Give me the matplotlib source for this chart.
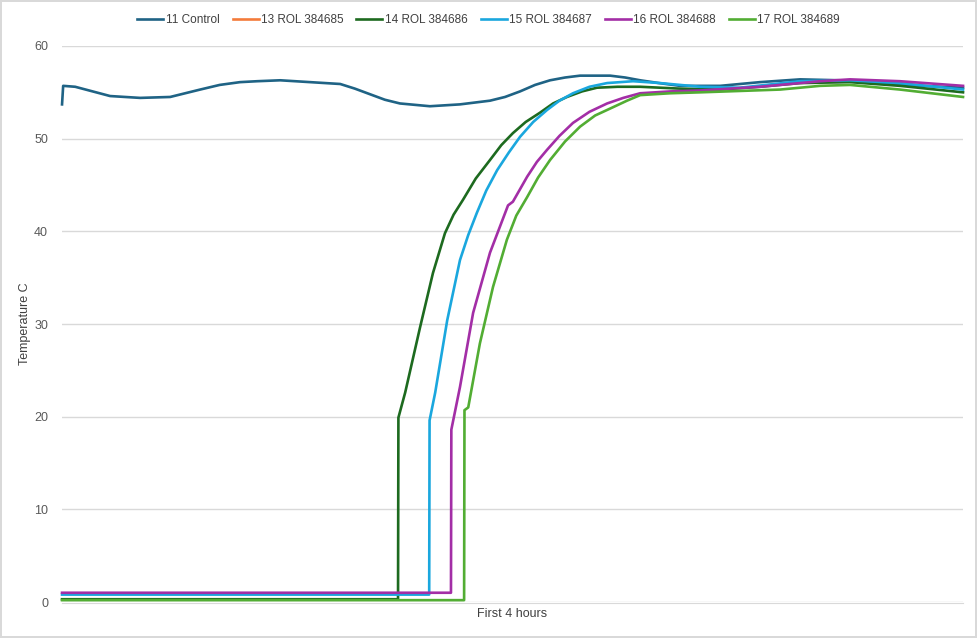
import matplotlib
matplotlib.use("Agg")
import matplotlib.pyplot as plt

plt.rcParams['font.family'] = ['Liberation Sans', 'DejaVu Sans']

# time in minutes (first 4 hours), temperature in C
control_t = [0, 0.3, 3.5, 12.8, 20.8, 28.8, 36.8, 42.0, 47.4, 52.0, 58.1, 66.1, 74.1, 78.0, 82.0,
             86.0, 90.0, 98.0, 106.0, 114.0, 118.0, 122.0, 126.0, 130.0, 134.0, 138.0, 146.0,
             150.0, 154.0, 159.0, 164.6, 175.3, 185.9, 196.6, 207.2, 217.9, 228.6, 240]
control_v = [53.7, 55.7, 55.6, 54.6, 54.4, 54.5, 55.3, 55.8, 56.1, 56.2, 56.3, 56.1, 55.9, 55.4, 54.8,
             54.2, 53.8, 53.5, 53.7, 54.1, 54.5, 55.1, 55.8, 56.3, 56.6, 56.8, 56.8,
             56.6, 56.3, 56.0, 55.7, 55.7, 56.1, 56.4, 56.3, 56.0, 55.7, 55.5]

rol685_t = []
rol685_v = []

rol686_t = [0, 89.5, 89.6, 91.4, 95.4, 98.8, 102.0, 104.3, 106.8, 110.2, 114.0, 117.0, 120.1,
            123.5, 127.3, 130.8, 134.5, 138.5, 142.5, 148.0, 154.0, 164.6, 175.3, 185.9,
            196.6, 209.9, 223.2, 240]
rol686_v = [0.3, 0.3, 19.9, 22.6, 29.7, 35.5, 39.8, 41.8, 43.4, 45.7, 47.7, 49.3, 50.6,
            51.8, 52.8, 53.8, 54.5, 55.1, 55.5, 55.6, 55.6, 55.4, 55.3, 55.6,
            56.0, 56.1, 55.7, 55.0]

rol687_t = [0, 97.8, 97.9, 99.4, 102.6, 106.0, 108.2, 110.5, 113.0, 115.9, 119.0, 122.0, 125.5,
            129.2, 132.5, 136.1, 140.5, 145.2, 152.1, 159.3, 170.0, 180.6, 196.6, 209.9,
            223.2, 240]
rol687_v = [0.8, 0.8, 19.6, 22.6, 30.4, 36.9, 39.6, 42.0, 44.4, 46.6, 48.5, 50.2, 51.8,
            53.1, 54.1, 54.9, 55.6, 56.0, 56.2, 56.0, 55.6, 55.5, 56.2, 56.3,
            56.0, 55.3]

rol688_t = [0, 103.6, 103.7, 106.0, 109.5, 114.0, 118.8, 120.1, 123.9, 126.5, 129.2, 132.5,
            136.1, 140.5, 145.2, 149.5, 154.0, 162.0, 170.0, 185.9, 201.9, 209.9, 223.2, 240]
rol688_v = [1.0, 1.0, 18.6, 23.2, 31.2, 37.7, 42.8, 43.2, 45.9, 47.5, 48.8, 50.3,
            51.7, 52.9, 53.8, 54.4, 54.9, 55.1, 55.2, 55.6, 56.2, 56.4, 56.2, 55.7]

rol689_t = [0, 107.1, 107.2, 108.2, 111.3, 114.8, 118.5, 121.0, 123.9, 126.8, 130.0, 134.0,
            138.0, 142.0, 146.8, 150.5, 154.0, 162.0, 170.0, 191.3, 201.9, 209.9, 223.2, 240]
rol689_v = [0.2, 0.2, 20.7, 21.0, 27.9, 34.0, 39.1, 41.7, 43.7, 45.8, 47.7, 49.7,
            51.3, 52.5, 53.4, 54.1, 54.7, 54.9, 55.0, 55.3, 55.7, 55.8, 55.3, 54.5]

series = [
    ("11 Control", control_t, control_v, "#1f6385"),
    ("13 ROL 384685", rol685_t, rol685_v, "#f47b3a"),
    ("14 ROL 384686", rol686_t, rol686_v, "#1d6a1f"),
    ("15 ROL 384687", rol687_t, rol687_v, "#1aa7de"),
    ("16 ROL 384688", rol688_t, rol688_v, "#a32ea6"),
    ("17 ROL 384689", rol689_t, rol689_v, "#52ad33"),
]

fig = plt.figure(figsize=(9.77, 6.38), dpi=100)
fig.patch.set_edgecolor("#d9d9d9")
fig.patch.set_linewidth(1.5)
ax = fig.add_axes([0.0635, 0.0564, 0.9222, 0.8715])

for name, t, v, c in series:
    ax.plot(t, v, color=c, lw=1.9, label=name, clip_on=False)

ax.set_xlim(0, 240)
ax.set_ylim(0, 60)
ax.set_yticks(range(0, 61, 10))
ax.set_xticks([])
ax.grid(axis="y", color="#d9d9d9", lw=1)
ax.set_axisbelow(True)
for s in ["top", "right", "left"]:
    ax.spines[s].set_visible(False)
ax.spines["bottom"].set_color("#d9d9d9")
ax.spines["bottom"].set_position(("outward", 1))
ax.tick_params(axis="y", length=0, labelsize=9, labelcolor="#595959", pad=10)

ax.set_ylabel("Temperature C", fontsize=9, color="#404040", labelpad=2)
ax.set_xlabel("First 4 hours", fontsize=9, color="#404040", labelpad=3)

fig.legend(loc="upper center", bbox_to_anchor=(0.5, 0.995), ncol=6, frameon=False,
           fontsize=8.5, handlelength=2.2, handletextpad=0.2, columnspacing=1.1,
           labelcolor="#404040")

fig.savefig("out.png", dpi=100)
